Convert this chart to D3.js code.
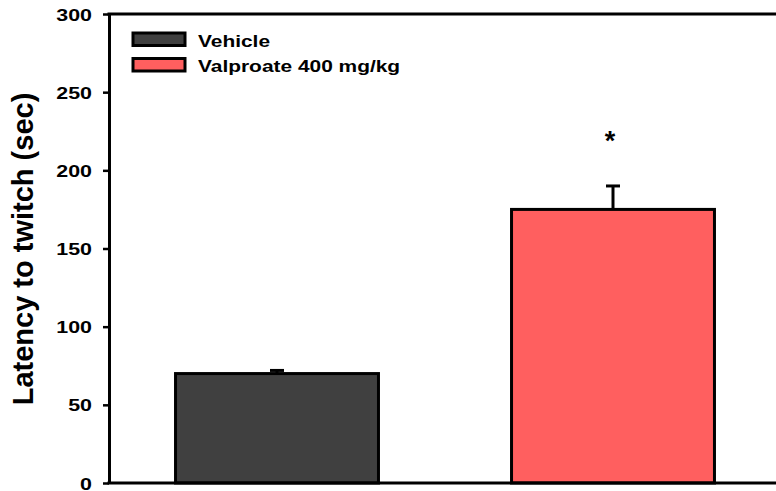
<!DOCTYPE html>
<html><head><meta charset="utf-8">
<script src="https://cdn.jsdelivr.net/npm/d3@7"></script>
<style>body{margin:0;background:#fff}svg{display:block}text{font-family:"Liberation Sans",Arial,sans-serif;font-weight:bold}</style>
</head><body>
<script>
const categories = ["Vehicle", "Valproate 400 mg/kg"];
const means = [70, 175];
const errors = [2, 15];
const colors = ["#404040", "#FF5F5F"];
const yTicks = [0, 50, 100, 150, 200, 250, 300];
const sigMarks = ["", "*"];

const W = 776, H = 491;
const m = {left: 109, top: 14};
const plotW = 672, plotH = 469;
const svg = d3.select("body").append("svg").attr("width", W).attr("height", H);
const g = svg.append("g").attr("transform", `translate(${m.left},${m.top})`);

const x = d3.scaleBand().domain(categories).range([0, plotW]).paddingInner(0.396).paddingOuter(0.198);
const y = d3.scaleLinear().domain([0, 300]).range([plotH, 0]);

// bars
g.selectAll("rect.bar").data(categories).enter().append("rect")
  .attr("x", d => x(d)).attr("width", x.bandwidth())
  .attr("y", (d, i) => y(means[i])).attr("height", (d, i) => plotH - y(means[i]))
  .attr("fill", (d, i) => colors[i]).attr("stroke", "#000").attr("stroke-width", 3);

// error bars (upper only)
categories.forEach((c, i) => {
  const cx = x(c) + x.bandwidth() / 2;
  g.append("line").attr("x1", cx).attr("x2", cx).attr("y1", y(means[i])).attr("y2", y(means[i] + errors[i]))
    .attr("stroke", "#000").attr("stroke-width", 3);
  g.append("line").attr("x1", cx - 7).attr("x2", cx + 7).attr("y1", y(means[i] + errors[i])).attr("y2", y(means[i] + errors[i]))
    .attr("stroke", "#000").attr("stroke-width", 3);
  if (sigMarks[i]) {
    g.append("text").attr("x", cx - 3).attr("y", y(means[i] + errors[i] + 30) + 11).attr("text-anchor", "middle")
      .attr("font-size", 27).text(sigMarks[i]);
  }
});

// y axis
const sx = 1.26;
const yAxis = d3.axisLeft(y).tickValues(yTicks).tickSize(6).tickSizeOuter(0);
const ya = g.append("g").call(yAxis);
ya.select(".domain").attr("stroke-width", 3).attr("stroke", "#000");
ya.selectAll(".tick line").attr("stroke-width", 2.5);
ya.selectAll(".tick text").attr("font-size", 17).attr("font-family", "Liberation Sans, Arial, sans-serif")
  .attr("font-weight", "bold").attr("fill", "#000").attr("x", -17 / sx).attr("dy", "0.36em")
  .attr("transform", `scale(${sx},1)`);

// bottom axis line and top frame line
g.append("line").attr("x1", -1.5).attr("x2", plotW).attr("y1", plotH).attr("y2", plotH).attr("stroke", "#000").attr("stroke-width", 3);
g.append("line").attr("x1", -1.5).attr("x2", plotW).attr("y1", 0).attr("y2", 0).attr("stroke", "#000").attr("stroke-width", 3);

// y label
svg.append("text").attr("transform", `translate(33,${m.top + plotH / 2 + 0.5}) rotate(-90)`)
  .attr("text-anchor", "middle").attr("font-size", 29).text("Latency to twitch (sec)");

// legend
const lsx = 1.23;
const lg = svg.append("g").attr("transform", "translate(133,33)");
categories.forEach((c, i) => {
  lg.append("rect").attr("x", 0).attr("y", i * 25.5).attr("width", 52).attr("height", 12.5)
    .attr("fill", colors[i]).attr("stroke", "#000").attr("stroke-width", 3);
  lg.append("text").attr("transform", `translate(65,${i * 25.5 + 13.5}) scale(${lsx},1)`).attr("font-size", 17).text(c);
});
</script>
</body></html>
